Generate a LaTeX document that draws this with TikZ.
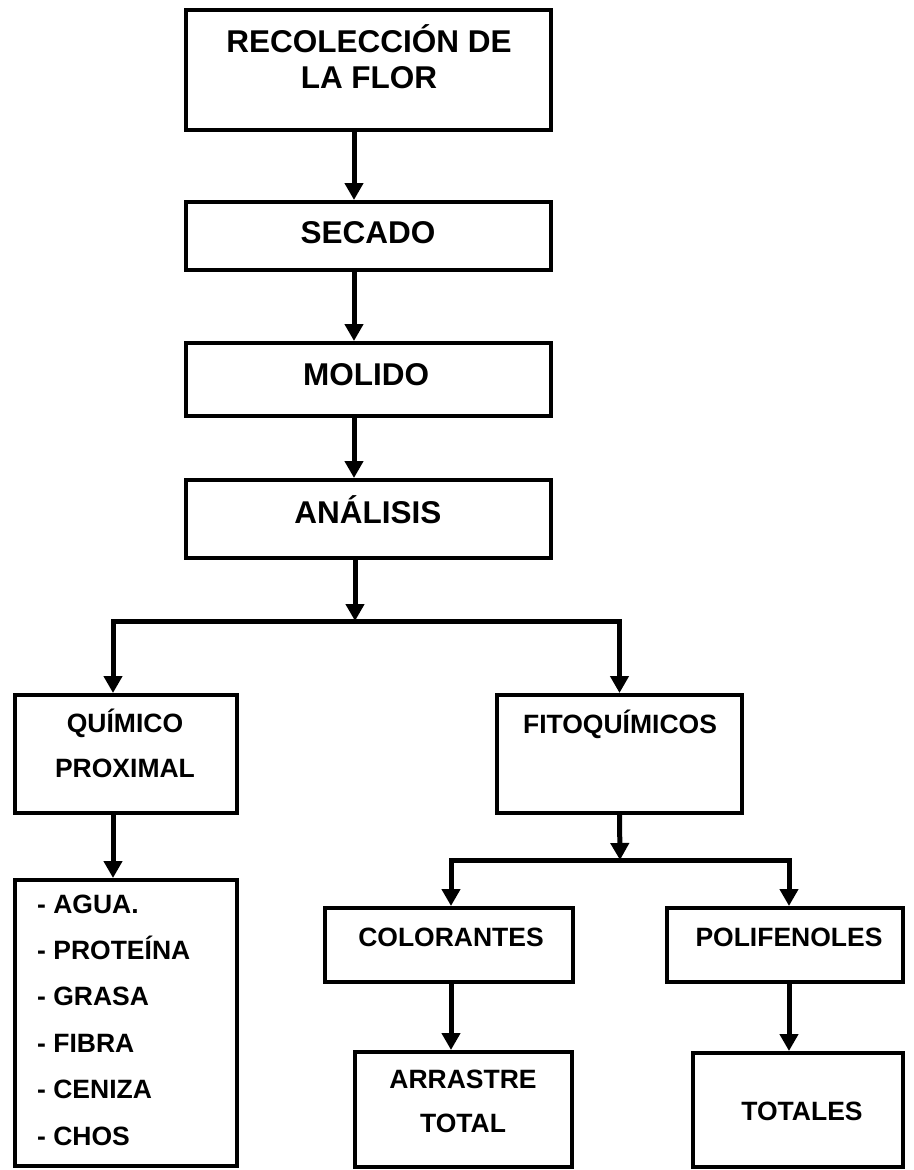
\documentclass[tikz,border=0pt]{standalone}
\usepackage{fontspec}
\setmainfont{Liberation Sans}
\usetikzlibrary{arrows.meta}

\newcommand{\bigtxt}{\fontsize{31.5}{36}\selectfont\bfseries}
\newcommand{\smalltxt}{\fontsize{26.5}{45}\selectfont\bfseries}

\begin{document}
\begin{tikzpicture}[x=1pt,y=-1pt,
  box/.style={draw=black,line width=4pt,fill=white,inner sep=0pt},
  txt/.style={inner sep=0pt,anchor=base,align=center},
  arr/.style={line width=5pt,-{Triangle[width=18pt,length=17pt]}},
  arrtwo/.style={line width=5pt,{Triangle[width=18pt,length=17pt]}-{Triangle[width=18pt,length=17pt]}}]
\useasboundingbox (0,0) rectangle (913,1170);
\node[box,minimum width=365pt,minimum height=120pt] (recoleccion) at (368,70) {};
\node[box,minimum width=365pt,minimum height=68pt] (secado) at (368,236) {};
\node[box,minimum width=365pt,minimum height=73pt] (molido) at (368,379.5) {};
\node[box,minimum width=365pt,minimum height=78pt] (analisis) at (368,519) {};
\node[box,minimum width=222pt,minimum height=118pt] (quimico) at (126,754) {};
\node[box,minimum width=245pt,minimum height=118pt] (fito) at (619.5,754) {};
\node[box,minimum width=222pt,minimum height=286pt] (lista) at (126,1023) {};
\node[box,minimum width=248pt,minimum height=74pt] (colorantes) at (449,945) {};
\node[box,minimum width=236pt,minimum height=74pt] (polifenoles) at (785,945) {};
\node[box,minimum width=217pt,minimum height=115pt] (arrastre) at (463.5,1109.5) {};
\node[box,minimum width=210pt,minimum height=114pt] (totales) at (798,1110) {};
\node[txt,font=\bigtxt] (t-recoleccion) at (369,88) {RECOLECCIÓN DE\\LA FLOR};
\node[txt,font=\bigtxt] (t-secado) at (368,243.5) {SECADO};
\node[txt,font=\bigtxt] (t-molido) at (366,385.5) {MOLIDO};
\node[txt,font=\bigtxt] (t-analisis) at (368,523) {ANÁLISIS};
\node[txt,font=\smalltxt] (t-quimico) at (125,777) {QUÍMICO\\PROXIMAL};
\node[txt,font=\smalltxt] (t-fito) at (620,733) {FITOQUÍMICOS};
\node[txt,font=\fontsize{26.5}{46.4}\selectfont\bfseries,anchor=base west,align=left] (t-lista) at (37,1145)
  {- AGUA.\\- PROTEÍNA\\- GRASA\\- FIBRA\\- CENIZA\\- CHOS};
\node[txt,font=\smalltxt] (t-colorantes) at (451,946) {COLORANTES};
\node[txt,font=\smalltxt] (t-polifenoles) at (789,946) {POLIFENOLES};
\node[txt,font=\fontsize{26.5}{44}\selectfont\bfseries] (t-arrastre) at (463,1132) {ARRASTRE\\TOTAL};
\node[txt,font=\smalltxt] (t-totales) at (802,1120) {TOTALES};
\coordinate (split-a) at (355,621);
\coordinate (split-b) at (620,860);
\draw[arr] ([xshift=-14pt]recoleccion.south) -- ([xshift=-14pt]secado.north);
\draw[arr] ([xshift=-14pt]secado.south) -- ([xshift=-14pt]molido.north);
\draw[arr] ([xshift=-14pt]molido.south) -- ([xshift=-14pt]analisis.north);
\draw[arr] ([xshift=-13pt]analisis.south) -- (split-a);
\draw[arrtwo] ([xshift=-13pt]quimico.north) |- (split-a) -| (fito.north);
\draw[arr] ([xshift=-13pt]quimico.south) -- ([xshift=-13pt]lista.north);
\draw[arr] (fito.south) -- (split-b);
\draw[arrtwo] ([xshift=2pt]colorantes.north) |- (split-b) -| ([xshift=4pt]polifenoles.north);
\draw[arr] ([xshift=2pt]colorantes.south) -- ([xshift=2pt]colorantes.south |- arrastre.north);
\draw[arr] ([xshift=4pt]polifenoles.south) -- ([xshift=4pt]polifenoles.south |- totales.north);
\end{tikzpicture}
\end{document}
